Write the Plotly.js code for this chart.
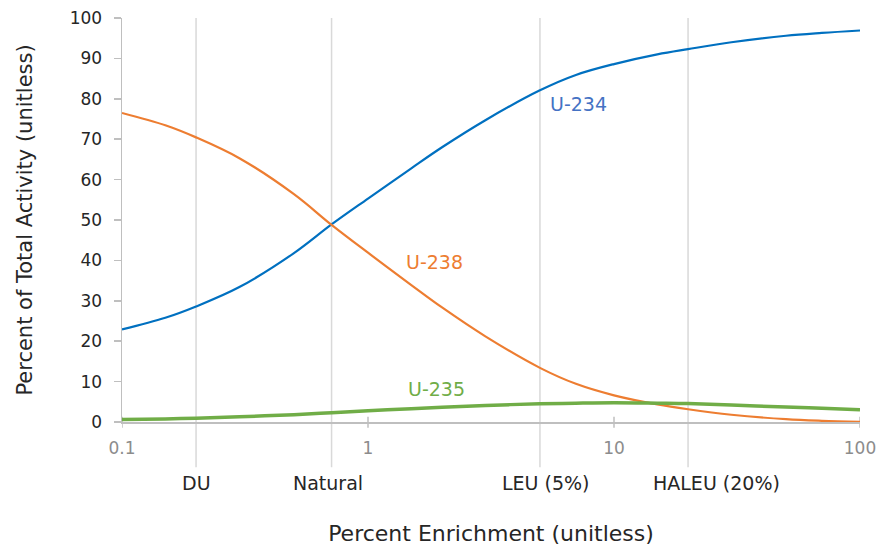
<!DOCTYPE html>
<html>
<head>
<meta charset="utf-8">
<script src="https://cdn.plot.ly/plotly-3.0.1.min.js"></script>
<style>html,body{margin:0;padding:0;background:#fff;}#chart{width:879px;height:546px;}</style>
</head>
<body>
<div id="chart"></div>
<script>
// Percent enrichment (x values)
const enrichment = [0.1, 0.15, 0.2, 0.3, 0.5, 0.711, 1, 1.5, 2, 3, 5, 7, 10, 15, 20, 30, 50, 70, 100];
// Percent of total activity per isotope
const u234 = [22.9, 25.8, 28.6, 33.4, 41.8, 48.9, 55.3, 62.8, 68.0, 74.7, 82.1, 85.9, 88.6, 91.0, 92.3, 94.0, 95.6, 96.3, 96.9];
const u238 = [76.5, 73.45, 70.45, 65.3, 56.4, 48.8, 41.9, 33.9, 28.35, 21.2, 13.4, 9.45, 6.6, 4.35, 3.15, 1.8, 0.7, 0.3, 0.05];
const u235 = [0.6, 0.75, 0.95, 1.3, 1.8, 2.3, 2.8, 3.3, 3.65, 4.1, 4.5, 4.65, 4.75, 4.65, 4.55, 4.2, 3.7, 3.4, 3.05];

// Reference enrichment levels
const refLevels = [0.2, 0.711, 5, 20];
const refLabels = ["DU", "Natural", "LEU (5%)", "HALEU (20%)"];
const refLabelShift = [0, -4, 6, 28];

// Axis ticks
const xTickVals = [0.1, 1, 10, 100];
const xTickText = ["0.1", "1", "10", "100"];
const yTickVals = [0, 10, 20, 30, 40, 50, 60, 70, 80, 90, 100];

// Series labels
const seriesNames = ["U-234", "U-238", "U-235"];
const seriesLabelX = [7.14, 1.87, 1.89];
const seriesLabelY = [78.6, 39.5, 8.1];
const lineColors = ["#0070C0", "#ED7D31", "#70AD47"];
const labelColors = ["#4472C4", "#ED7D31", "#70AD47"];

const FONT = "DejaVu Sans";

const traces = [
  {x: enrichment, y: u234, name: seriesNames[0], mode: "lines", line: {color: lineColors[0], width: 2.2, shape: "spline", smoothing: 1}},
  {x: enrichment, y: u238, name: seriesNames[1], mode: "lines", line: {color: lineColors[1], width: 2.2, shape: "spline", smoothing: 1}},
  {x: enrichment, y: u235, name: seriesNames[2], mode: "lines", line: {color: lineColors[2], width: 3.5, shape: "spline", smoothing: 1}}
];

const shapes = [];
refLevels.forEach(v => {
  shapes.push({type: "line", xref: "x", yref: "paper", x0: v, x1: v, y0: -0.112, y1: 1,
    line: {color: "#d9d9d9", width: 1.5}, layer: "below"});
});
xTickVals.forEach(v => {
  shapes.push({type: "line", xref: "x", yref: "paper", x0: v, x1: v, y0: -0.014, y1: 0.013,
    line: {color: "#bfbfbf", width: 1.5}, layer: "below"});
});

const annotations = [];
refLevels.forEach((v, i) => {
  annotations.push({x: Math.log10(v), y: -0.15, xref: "x", yref: "paper", text: refLabels[i],
    showarrow: false, xshift: refLabelShift[i], xanchor: "center", yanchor: "middle",
    font: {family: FONT, size: 19, color: "#262626"}});
});
seriesNames.forEach((n, i) => {
  annotations.push({x: Math.log10(seriesLabelX[i]), y: seriesLabelY[i], xref: "x", yref: "y", text: n,
    showarrow: false, xanchor: "center", yanchor: "middle",
    font: {family: FONT, size: 19, color: labelColors[i]}});
});

const layout = {
  width: 879, height: 546,
  margin: {l: 122, r: 19, t: 18, b: 124},
  paper_bgcolor: "#ffffff", plot_bgcolor: "#ffffff",
  showlegend: false,
  font: {family: FONT, color: "#262626"},
  xaxis: {
    type: "log", range: [-1, 2],
    tickvals: xTickVals, ticktext: xTickText,
    showgrid: false, zeroline: false,
    showline: true, linecolor: "#bfbfbf", linewidth: 1.5,
    ticks: "", ticklabelstandoff: 10,
    tickfont: {family: FONT, size: 17, color: "#8c8c8c"},
    title: {text: "Percent Enrichment (unitless)", standoff: 75, font: {family: FONT, size: 22, color: "#262626"}}
  },
  yaxis: {
    range: [0, 100], tickvals: yTickVals,
    showgrid: false, zeroline: false,
    showline: true, linecolor: "#bfbfbf", linewidth: 1.5,
    ticks: "outside", ticklen: 7, tickcolor: "#bfbfbf", tickwidth: 1.5,
    ticklabelstandoff: 8,
    tickfont: {family: FONT, size: 17, color: "#262626"},
    title: {text: "Percent of Total Activity (unitless)", standoff: 31, font: {family: FONT, size: 21, color: "#262626"}}
  },
  shapes: shapes,
  annotations: annotations
};

Plotly.newPlot("chart", traces, layout, {staticPlot: true, displayModeBar: false});
</script>
</body>
</html>
